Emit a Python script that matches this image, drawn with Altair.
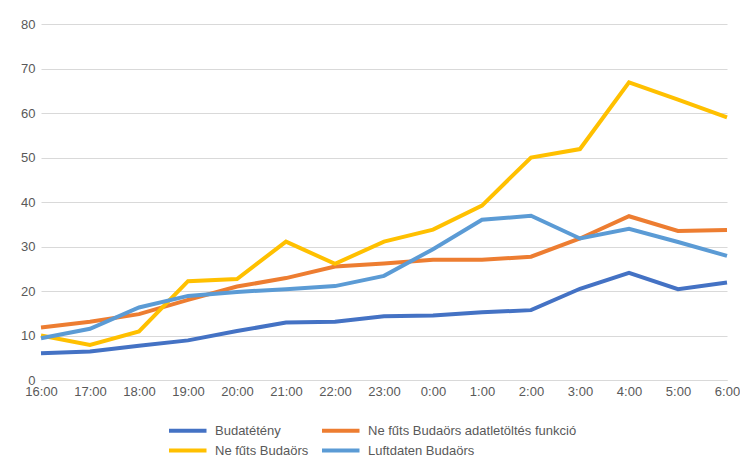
import altair as alt
import pandas as pd

times = ["16:00", "17:00", "18:00", "19:00", "20:00", "21:00", "22:00", "23:00",
         "0:00", "1:00", "2:00", "3:00", "4:00", "5:00", "6:00"]
budatet = [6.0, 6.4, 7.7, 8.9, 11.0, 12.9, 13.1, 14.3, 14.5, 15.2, 15.7, 20.5, 24.1, 20.4, 21.9]
nefuts_adat = [11.8, 13.1, 14.8, 18.0, 21.0, 22.9, 25.5, 26.2, 27.0, 27.0, 27.7, 31.8, 36.8, 33.5, 33.7]
nefuts = [10.0, 7.9, 10.9, 22.2, 22.7, 31.1, 26.1, 31.1, 33.8, 39.2, 50.0, 51.9, 66.9, 63.0, 59.0]
luft = [9.4, 11.5, 16.3, 18.9, 19.8, 20.4, 21.1, 23.4, 29.4, 36.0, 36.9, 31.8, 34.0, 31.0, 27.9]

series_names = ["Budatétény", "Ne fűts Budaörs adatletöltés funkció",
                "Ne fűts Budaörs", "Luftdaten Budaörs"]
series_vals = [budatet, nefuts_adat, nefuts, luft]
colors = ["#4472C4", "#ED7D31", "#FFC000", "#5B9BD5"]

rows = []
for name, vals in zip(series_names, series_vals):
    for t, v in zip(times, vals):
        rows.append({"time": t, "value": v, "series": name})
df = pd.DataFrame(rows)

font = "Liberation Sans"
chart = alt.Chart(df).mark_line(strokeWidth=4).encode(
    x=alt.X("time:O", sort=times, title=None,
            scale=alt.Scale(type="point", padding=0),
            axis=alt.Axis(labelAngle=0, ticks=False, domain=True, domainColor="#d9d9d9",
                          labelColor="#595959", labelFont=font, labelFontSize=13,
                          labelPadding=5, grid=False)),
    y=alt.Y("value:Q", title=None, scale=alt.Scale(domain=[0, 80]),
            axis=alt.Axis(values=[0, 10, 20, 30, 40, 50, 60, 70, 80], ticks=False,
                          domain=False, gridColor="#d9d9d9", labelColor="#595959",
                          labelFont=font, labelFontSize=13, labelPadding=6)),
    color=alt.Color("series:N", sort=series_names,
                    scale=alt.Scale(domain=series_names, range=colors),
                    legend=alt.Legend(title=None, orient="none", legendX=126, legendY=397,
                                      direction="horizontal", labelLimit=0,
                                      columns=2, symbolType="M-1,0H4", symbolSize=225,
                                      symbolStrokeWidth=4, symbolFillColor="transparent",
                                      labelFont=font, labelFontSize=13,
                                      labelColor="#595959", columnPadding=5, rowPadding=2,
                                      labelOffset=29, padding=0)),
).properties(width=686, height=356,
             padding={"left": 12, "top": 10, "right": 0, "bottom": 0}
).configure_view(stroke=None)

chart.save("out.html", embed_options={"renderer": "svg", "actions": False})
